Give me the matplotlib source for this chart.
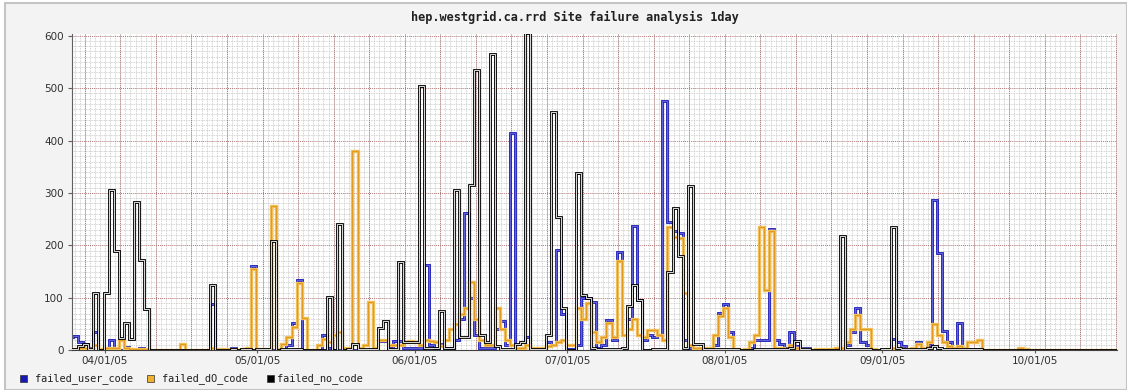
import numpy as np
import matplotlib
matplotlib.use('Agg')
import matplotlib.pyplot as plt
from matplotlib.patches import Rectangle
from datetime import datetime

# ---------------- data ----------------
first_bin = '03/25/05'          # first daily bin shown (UTC day)
series_names = ['failed_user_code', 'failed_dO_code', 'failed_no_code']
title = 'hep.westgrid.ca.rrd Site failure analysis 1day'

# rows of 10 daily values, starting 03/25/05
user_code = [
    25, 27, 15, 12, 5, 35, 0, 3, 20, 3,
    0, 6, 2, 0, 5, 0, 0, 0, 0, 0,
    0, 0, 0, 0, 0, 0, 0, 0, 88, 0,
    0, 0, 4, 0, 0, 0, 160, 0, 2, 0,
    0, 0, 0, 10, 52, 134, 0, 0, 0, 0,
    30, 5, 0, 0, 0, 0, 0, 0, 0, 0,
    0, 18, 18, 5, 17, 18, 5, 5, 5, 5,
    163, 10, 5, 12, 5, 5, 20, 60, 262, 100,
    30, 5, 5, 5, 40, 55, 10, 415, 5, 5,
    25, 3, 3, 3, 15, 10, 192, 70, 3, 3,
    10, 100, 100, 92, 5, 10, 58, 20, 188, 30,
    60, 238, 95, 20, 30, 25, 30, 475, 245, 228,
    224, 20, 5, 3, 3, 3, 3, 10, 72, 88,
    35, 3, 0, 0, 5, 20, 20, 20, 231, 20,
    12, 5, 35, 8, 5, 5, 0, 0, 0, 0,
    0, 3, 5, 10, 35, 80, 15, 10, 0, 0,
    0, 3, 22, 15, 8, 3, 3, 15, 3, 10,
    287, 185, 36, 15, 5, 52, 5, 3, 3, 3,
    0, 0, 0, 0, 0, 0, 0, 0, 0, 0,
    0, 0, 0, 0, 0, 0, 0, 0, 0, 0,
    0, 0, 0, 0, 0, 0, 0,
]
do_code = [
    3, 3, 5, 5, 3, 10, 3, 5, 5, 5,
    20, 5, 3, 3, 3, 3, 0, 0, 0, 0,
    0, 0, 12, 0, 0, 0, 0, 0, 5, 2,
    2, 2, 2, 0, 2, 5, 155, 2, 2, 2,
    275, 3, 12, 25, 45, 128, 62, 0, 0, 10,
    22, 15, 30, 35, 5, 5, 380, 5, 10, 92,
    5, 20, 20, 10, 10, 10, 15, 18, 15, 10,
    20, 18, 15, 8, 20, 40, 50, 70, 80, 130,
    60, 20, 10, 10, 80, 40, 20, 10, 5, 5,
    10, 5, 5, 5, 8, 10, 15, 20, 10, 10,
    80, 60, 90, 35, 15, 26, 52, 25, 170, 30,
    40, 60, 30, 25, 38, 38, 30, 20, 236, 216,
    214, 110, 10, 5, 5, 5, 5, 30, 65, 80,
    25, 3, 0, 3, 15, 30, 236, 115, 228, 5,
    5, 3, 10, 5, 3, 3, 0, 3, 3, 3,
    3, 5, 5, 15, 40, 68, 40, 40, 3, 0,
    0, 3, 5, 5, 3, 3, 5, 12, 5, 15,
    50, 30, 15, 8, 5, 8, 5, 16, 16, 19,
    0, 0, 0, 0, 0, 0, 0, 5, 3, 0,
    0, 0, 0, 0, 0, 0, 0, 0, 0, 0,
    0, 0, 0, 0, 0, 0, 0,
]
no_code = [
    3, 3, 8, 12, 2, 110, 0, 110, 305, 190,
    23, 52, 22, 283, 172, 78, 0, 0, 0, 0,
    0, 0, 0, 0, 0, 0, 0, 0, 125, 0,
    0, 0, 3, 0, 3, 3, 0, 3, 3, 3,
    208, 0, 3, 3, 3, 3, 0, 0, 0, 0,
    0, 102, 0, 240, 0, 3, 12, 3, 3, 3,
    3, 42, 55, 3, 3, 169, 15, 15, 15, 505,
    5, 5, 5, 75, 5, 5, 305, 25, 25, 316,
    535, 29, 15, 565, 8, 3, 3, 3, 12, 15,
    605, 3, 3, 3, 30, 455, 255, 80, 0, 0,
    338, 105, 100, 5, 3, 3, 3, 3, 3, 5,
    85, 125, 95, 0, 0, 3, 3, 3, 150, 272,
    180, 5, 314, 12, 12, 3, 3, 3, 3, 3,
    3, 3, 0, 0, 0, 3, 3, 3, 3, 3,
    3, 3, 5, 18, 3, 3, 0, 0, 0, 0,
    0, 0, 218, 3, 3, 3, 3, 3, 0, 0,
    3, 3, 235, 5, 3, 3, 3, 3, 3, 5,
    8, 5, 3, 3, 3, 3, 3, 3, 3, 3,
    0, 0, 0, 0, 0, 0, 0, 0, 0, 0,
    0, 0, 0, 0, 0, 0, 0, 0, 0, 0,
    0, 0, 0, 0, 0, 0, 0,
]
x_tick_labels = ['04/01/05', '05/01/05', '06/01/05', '07/01/05',
                 '08/01/05', '09/01/05', '10/01/05']
y_ticks = [0, 100, 200, 300, 400, 500, 600]

# ---------------- figure ----------------
W, H = 1127, 390
fig = plt.figure(figsize=(W / 100, H / 100), dpi=100)
fig.patch.set_facecolor('white')
fig.patches.append(Rectangle((5 / W, 0), 1 - 5 / W, 1 - 3 / H, transform=fig.transFigure,
                             facecolor='#f3f3f3', edgecolor='#c4c4c4', lw=1.5, zorder=-10))

ax_l, ax_r, ax_b, ax_t = 72, 1117, 350.3, 34
ax = fig.add_axes([ax_l / W, 1 - ax_b / H, (ax_r - ax_l) / W, (ax_b - ax_t) / H])
ax.set_facecolor('white')

ref = datetime(2005, 4, 1)
def day_of(s):
    return (datetime.strptime(s, '%m/%d/%y') - ref).days

d0 = day_of(first_bin)
shift = -7 / 24.0   # UTC day bins shown in local time
n = len(user_code)
edges = np.arange(n + 1) + d0 + shift

xmin, xmax = -6.5, 199.2
ax.set_xlim(xmin, xmax)
ymax = 600 * (ax_b - ax_t) / (ax_b - 35.7)
ax.set_ylim(0, ymax)

# grid
minor_c, major_c = '#c4c4c4', '#b07878'
for xd in np.arange(np.ceil(xmin), xmax + 1e-9, 1):
    ax.axvline(xd, color=minor_c, lw=0.6, ls=(0, (1, 1)), zorder=0)
for yv in np.arange(10, ymax, 10):
    if yv % 100:
        ax.axhline(yv, color=minor_c, lw=0.6, ls=(0, (1, 1)), zorder=0)
monday = 3
for xd in np.arange(monday - 7 * 2, xmax, 7):
    if xd > xmin:
        ax.axvline(xd, color=major_c, lw=0.7, ls=(0, (1, 1)), zorder=0.5)
for yv in y_ticks[1:]:
    ax.axhline(yv, color=major_c, lw=0.7, ls=(0, (1, 1)), zorder=0.5)

# series
styles = [
    (user_code, '#1818b4', '#7070e0', 2.0, 0.6),
    (do_code, '#f2c05a', '#e39a1e', 2.4, 0.8),
    (no_code, '#000000', '#ffffff', 2.0, 0.6),
]
for i, (vals, c_out, c_in, lw_o, lw_i) in enumerate(styles):
    v = np.asarray(vals, float)
    ax.stairs(v, edges, baseline=None, color=c_out, lw=lw_o, zorder=2 + i)
    ax.stairs(v, edges, baseline=None, color=c_in, lw=lw_i, zorder=2.5 + i)

# axes styling
for s in ['top', 'right']:
    ax.spines[s].set_visible(False)
ax.spines['left'].set_color('#606060')
ax.spines['left'].set_lw(0.8)
ax.spines['bottom'].set_color('#404040')
ax.spines['bottom'].set_lw(0.8)
ax.set_yticks(y_ticks)
ax.set_yticklabels([str(t) for t in y_ticks])
ax.set_xticks([day_of(t) for t in x_tick_labels])
ax.set_xticklabels(x_tick_labels)
ax.tick_params(axis='y', length=3, width=0.8, color='#606060', pad=3,
               labelsize=7.5, labelcolor='#303030')
ax.tick_params(axis='x', length=2, width=0.8, color='#606060', pad=2,
               labelsize=7.5, labelcolor='#303030')

# title
fig.text(575 / W, 1 - 17 / H, title, ha='center', va='center',
         family='DejaVu Sans Mono', fontweight='bold', fontsize=8.6, color='#202020')

# legend
leg_cols = ['#1818b4', '#f0b030', '#000000']
sq_x = [20, 147, 267]
tx_x = [35, 162, 277]
for name, c, sx, tx in zip(series_names, leg_cols, sq_x, tx_x):
    fig.patches.append(Rectangle((sx / W, 1 - 382 / H), 7 / W, 7 / H,
                                 transform=fig.transFigure, facecolor=c,
                                 edgecolor='#303030', lw=0.5))
    fig.text(tx / W, 1 - 378.5 / H, name, ha='left', va='center',
             family='DejaVu Sans Mono', fontsize=7.4, color='#202020')

fig.savefig('out.png', dpi=100, facecolor=fig.get_facecolor())
